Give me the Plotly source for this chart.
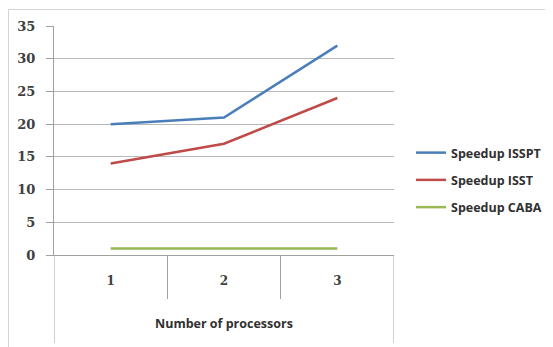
import plotly.graph_objects as go

categories = [1, 2, 3]
tick_labels = ["1", "2", "3"]
speedup_isspt = [20, 21, 32]
speedup_isst = [14, 17, 24]
speedup_caba = [1, 1, 1]
series_names = ["Speedup ISSPT", "Speedup ISST", "Speedup CABA"]
series_colors = ["#4a7ebb", "#be4b48", "#98b954"]

# page has an 8px body margin; figure sized to fit the 553x347 window
OFF = 8
W, H = 545, 339
PL, PR, PT, PB = 54, 394, 26, 255  # plot area in page pixels
L = PL - OFF
T = PT - OFF
R = W - (PR - OFF)
B = H - (PB - OFF)
plot_w = PR - PL
plot_h = PB - PT

def px_x(p):
    return (p - PL) / plot_w

def px_y(p):
    return (PB - p) / plot_h

fig = go.Figure()
for name, vals, col in zip(series_names, [speedup_isspt, speedup_isst, speedup_caba], series_colors):
    fig.add_trace(go.Scatter(
        x=categories, y=vals, mode="lines", name=name, legendgroup=name,
        line=dict(color=col, width=2.5),
    ))

shapes = [
    dict(type="rect", xref="paper", yref="paper",
         x0=px_x(8.5), x1=px_x(570), y0=px_y(9.5), y1=px_y(370),
         line=dict(color="#d4d4d4", width=1), layer="below"),
    dict(type="line", xref="x", yref="paper", x0=0.5, x1=0.5,
         y0=0, y1=px_y(343), line=dict(color="#a0a0a0", width=1)),
    dict(type="line", xref="x", yref="paper", x0=3.5, x1=3.5,
         y0=0, y1=px_y(343), line=dict(color="#a0a0a0", width=1)),
]

fig.update_layout(
    width=W, height=H,
    margin=dict(l=L, r=R, t=T, b=B, autoexpand=False),
    paper_bgcolor="white", plot_bgcolor="white",
    font=dict(family="Open Sans", color="#404040"),
    showlegend=True,
    legend=dict(x=px_x(411), y=px_y(138), xanchor="left", yanchor="top",
                traceorder="grouped", tracegroupgap=8,
                font=dict(size=12.5, family="Open Sans", color="#303030", weight="bold"),
                bgcolor="rgba(0,0,0,0)"),
    shapes=shapes,
    annotations=[dict(text="Number of processors", xref="paper", yref="paper",
                      x=0.5, y=px_y(323), yanchor="middle", showarrow=False,
                      font=dict(size=12.5, family="Open Sans", color="#303030", weight="bold"))],
)

fig.update_xaxes(
    range=[0.5, 3.5], tickvals=categories, ticktext=tick_labels,
    ticks="", showgrid=False, zeroline=False,
    showline=True, linecolor="#a0a0a0", linewidth=1,
    ticklabelstandoff=15,
    tickfont=dict(size=12, family="DejaVu Serif", color="#404040", weight="bold"),
    minor=dict(tickvals=[1.5, 2.5], ticks="outside", ticklen=43, tickcolor="#a0a0a0", tickwidth=1),
)
fig.update_yaxes(
    range=[0, 35], tickvals=[0, 5, 10, 15, 20, 25, 30, 35],
    ticks="outside", ticklen=7, tickcolor="#a0a0a0",
    showgrid=True, gridcolor="#b8b8b8", gridwidth=1,
    zeroline=False, showline=True, linecolor="#a0a0a0", linewidth=1,
    ticklabelstandoff=8,
    tickfont=dict(size=13, family="DejaVu Serif", color="#404040", weight="bold"),
)

fig.write_html("out.html")
